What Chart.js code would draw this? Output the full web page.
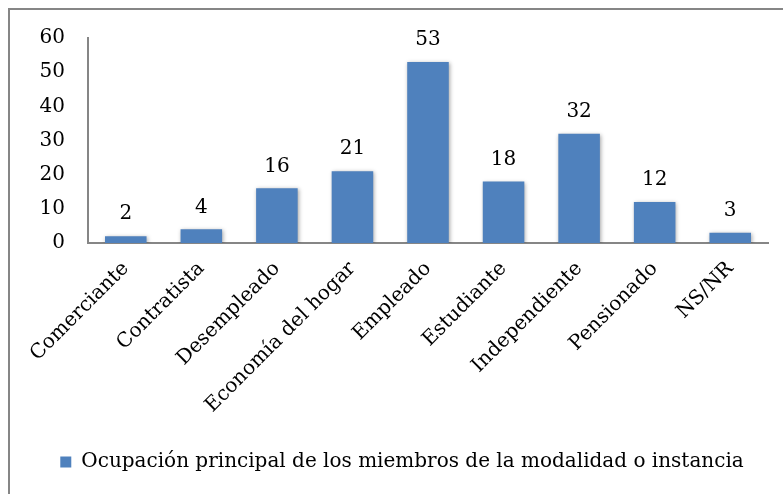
<!DOCTYPE html>
<html>
<head>
    <meta charset="UTF-8">
    <title>Ocupación principal</title>
    <script src="https://cdn.jsdelivr.net/npm/chart.js@4/dist/chart.umd.min.js"></script>
</head>
<style>
    body { margin: 0; background: #fff; }
    #marco { position: absolute; left: 8px; top: 8px; width: 775px; height: 486px;
             border-left: 2px solid #868686; border-top: 2px solid #868686; pointer-events: none; }
</style>
<body>
    <canvas id="wykres" width="783" height="494"></canvas>
    <div id="marco"></div>

    <script>
        var categorias = ['Comerciante', 'Contratista', 'Desempleado', 'Economía del hogar', 'Empleado',
                          'Estudiante', 'Independiente', 'Pensionado', 'NS/NR'];
        var valores = [2, 4, 16, 21, 53, 18, 32, 12, 3];
        var serie = 'Ocupación principal de los miembros de la modalidad o instancia';
        var fuente = "'DejaVu Serif', serif";

        // sombra suave de las barras
        var sombra = {
            id: 'sombra',
            beforeDatasetsDraw: function (chart) {
                var c = chart.ctx;
                c.save();
                c.shadowColor = 'rgba(0,0,0,0.35)';
                c.shadowBlur = 4;
                c.shadowOffsetX = 1;
                c.shadowOffsetY = 1;
            },
            afterDatasetsDraw: function (chart) {
                chart.ctx.restore();
            }
        };

        // etiquetas de valor encima de cada barra
        var etiquetas = {
            id: 'etiquetas',
            afterDraw: function (chart) {
                var c = chart.ctx;
                var meta = chart.getDatasetMeta(0);
                c.save();
                c.font = '20px ' + fuente;
                c.fillStyle = '#000';
                c.textAlign = 'center';
                c.textBaseline = 'bottom';
                meta.data.forEach(function (bar, i) {
                    c.fillText(valores[i], bar.x, bar.y - 12);
                });
                c.restore();
            }
        };

        new Chart(document.getElementById('wykres'), {
            type: 'bar',
            data: {
                labels: categorias,
                datasets: [{
                    label: serie,
                    data: valores,
                    backgroundColor: '#4F81BD',
                    borderWidth: 0,
                    categoryPercentage: 1,
                    barPercentage: 0.55
                }]
            },
            options: {
                responsive: false,
                animation: false,
                layout: { padding: { left: 36, top: 38, right: 15, bottom: 12 } },
                scales: {
                    x: {
                        grid: { display: false, drawTicks: false },
                        border: { display: true, color: '#868686', width: 2 },
                        ticks: { color: '#000', font: { family: fuente, size: 20 },
                                 minRotation: 45, maxRotation: 45, autoSkip: false, padding: 14 },
                        afterFit: function (s) { s.height = 199; }
                    },
                    y: {
                        min: 0, max: 60,
                        grid: { display: false, drawTicks: false },
                        border: { display: true, color: '#868686', width: 2 },
                        ticks: { stepSize: 10, color: '#000', font: { family: fuente, size: 20 }, padding: 23 },
                        afterFit: function (s) { s.width = 52; }
                    }
                },
                plugins: {
                    legend: {
                        position: 'bottom',
                        labels: { color: '#000', font: { family: fuente, size: 20 },
                                  boxWidth: 11, boxHeight: 11, padding: 10 }
                    },
                    tooltip: { enabled: false }
                }
            },
            plugins: [sombra, etiquetas]
        });
    </script>
</body>
</html>
